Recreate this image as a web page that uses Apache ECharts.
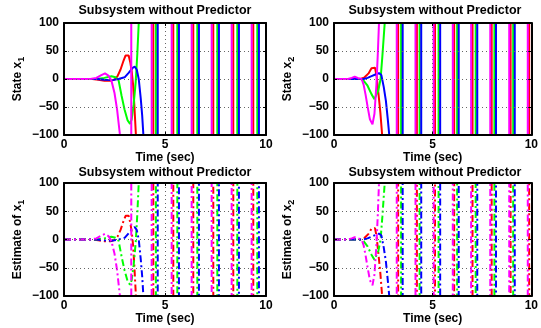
<!DOCTYPE html>
<html>
<head>
<meta charset="utf-8">
<script src="https://cdn.jsdelivr.net/npm/echarts@6/dist/echarts.min.js"></script>
<style>
html, body { margin: 0; padding: 0; background: #fff; }
#chart { width: 541px; height: 328px; }
</style>
</head>
<body>
<div id="chart"></div>
<script>
// axis ticks
const xTicks = [0, 5, 10];
const yTicks = [-100, -50, 0, 50, 100];
const titleText = "Subsystem without Predictor";
const yNames = ["State x{s|1}", "State x{s|2}", "Estimate of x{s|1}", "Estimate of x{s|2}"];

// state x1: start of each trace [t, value], then times where the blown-up oscillation crosses the band
const x1RedStart = [[0, 0], [1.4, 0], [1.7, -1.5], [2.0, -3], [2.3, -3], [2.5, -1], [2.65, 5], [2.8, 17], [2.95, 33], [3.05, 42], [3.12, 45], [3.2, 42], [3.28, 30], [3.35, 14], [3.42, -10], [3.48, -45], [3.56, -100]];
const x1RedCross = [4.42, 5.41, 6.40, 7.39, 8.38, 9.37];
const x1GreenStart = [[0, 0], [1.6, 0], [2.0, 2], [2.35, 5], [2.55, 3], [2.7, -2], [2.85, -30], [3.0, -55], [3.15, -74], [3.27, -80], [3.35, -72], [3.45, -45], [3.55, -5], [3.63, 45], [3.7, 100]];
const x1GreenCross = [4.55, 5.61, 6.60, 7.59, 8.58, 9.57];
const x1BlueStart = [[0, 0], [1.6, 0], [2.0, -1.5], [2.4, -2], [2.7, 0], [3.0, 3], [3.2, 11], [3.4, 20], [3.5, 22], [3.6, 17], [3.7, 0], [3.8, -35], [3.87, -65], [3.93, -100]];
const x1BlueCross = [4.64, 5.69, 6.68, 7.67, 8.66, 9.65];
const x1MagentaStart = [[0, 0], [1.3, 0], [1.6, 2], [1.85, 7], [2.03, 10], [2.2, 6], [2.35, -3], [2.5, -25], [2.63, -55], [2.77, -100]];
const x1MagentaCross = [3.33, 4.34, 5.33, 6.32, 7.31, 8.30, 9.29];

// state x2
const x2RedStart = [[0, 0], [1.35, 0], [1.55, 3], [1.75, 10], [1.9, 19], [2.0, 22.5], [2.08, 20], [2.16, 5], [2.25, -25], [2.35, -60], [2.44, -100]];
const x2RedCross = [3.25, 4.20, 5.12, 6.09, 7.02, 7.99, 8.95, 9.89];
const x2GreenStart = [[0, 0], [1.35, 0], [1.5, -3], [1.7, -12], [1.9, -27], [2.05, -36], [2.15, -38], [2.25, -20], [2.36, 0], [2.45, 40], [2.52, 75], [2.57, 100]];
const x2GreenCross = [3.40, 4.34, 5.30, 6.24, 7.18, 8.13, 9.08];
const x2BlueStart = [[0, 0], [1.5, 0], [1.7, 2], [1.9, 5], [2.1, 8], [2.28, 10.5], [2.4, 7], [2.52, -14], [2.63, -39], [2.72, -70], [2.8, -100]];
const x2BlueCross = [3.48, 4.42, 5.38, 6.32, 7.26, 8.21, 9.16];
const x2MagentaStart = [[0, 0], [0.7, 0], [0.9, 2], [1.05, 4], [1.2, 2], [1.4, 0], [1.5, -10], [1.6, -28], [1.7, -49], [1.82, -72], [1.95, -81], [2.05, -62], [2.15, -10], [2.22, 45], [2.28, 100]];
const x2MagentaCross = [3.18, 4.13, 5.05, 6.02, 6.95, 7.92, 8.88, 9.82];

const colors = ["#ff0000", "#00ff00", "#0000ff", "#ff00ff"];

// the estimates follow the states closely
const panels = [
	[[x1RedStart, x1RedCross], [x1GreenStart, x1GreenCross], [x1BlueStart, x1BlueCross], [x1MagentaStart, x1MagentaCross]],
	[[x2RedStart, x2RedCross], [x2GreenStart, x2GreenCross], [x2BlueStart, x2BlueCross], [x2MagentaStart, x2MagentaCross]],
];

// off-scale value used once a trace has left the window
const OFF = 300;

function trace(start, cross) {
	const pts = start.slice();
	const last = pts[pts.length - 1];
	let y = last[1] > 0 ? OFF : -OFF;
	pts.push([last[0] + 0.03, y]);
	cross.forEach((t) => {
		pts.push([t, y]);
		y = -y;
		pts.push([t, y]);
	});
	pts.push([10, y]);
	return pts;
}

const font = { fontFamily: "Liberation Sans", fontWeight: "bold", fontSize: 12, color: "#000" };
const grids = [
	{ left: 64, top: 23, width: 202, height: 112 },
	{ left: 334, top: 23, width: 202, height: 112 },
	{ left: 64, top: 183, width: 202, height: 113 },
	{ left: 334, top: 183, width: 202, height: 113 },
];

const xAxes = [];
const yAxes = [];
const series = [];
const titles = [];

grids.forEach((g, i) => {
	const boxLine = { show: true, onZero: false, lineStyle: { color: "#000", width: 2 } };
	const tick = { show: true, inside: true, length: 3, lineStyle: { color: "#000", width: 1 } };
	const dotted = { show: true, lineStyle: { color: "#666", width: 1, type: [1, 3] } };
	xAxes.push({
		gridIndex: i, type: "value", min: xTicks[0], max: xTicks[xTicks.length - 1], interval: 5,
		position: "bottom", z: 10,
		name: "Time (sec)", nameLocation: "middle", nameGap: 16, nameTextStyle: font,
		axisLine: boxLine, axisTick: tick, splitLine: dotted,
		axisLabel: { ...font, margin: 4 },
	});
	xAxes.push({
		gridIndex: i, type: "value", min: 0, max: 10, interval: 5, position: "top", z: 10,
		axisLine: boxLine, axisTick: tick, splitLine: { show: false }, axisLabel: { show: false },
	});
	yAxes.push({
		gridIndex: i, type: "value", min: yTicks[0], max: yTicks[yTicks.length - 1], interval: 50,
		position: "left", z: 10,
		name: yNames[i], nameLocation: "middle", nameGap: 38,
		nameTextStyle: { ...font, rich: { s: { ...font, fontSize: 9, padding: [7, 0, 0, 0] } } },
		axisLine: boxLine, axisTick: tick, splitLine: dotted,
		axisLabel: { ...font, margin: 5, formatter: (v) => (v < 0 ? "\u2212" + -v : "" + v) },
	});
	yAxes.push({
		gridIndex: i, type: "value", min: -100, max: 100, interval: 50, position: "right", z: 10,
		axisLine: boxLine, axisTick: tick, splitLine: { show: false }, axisLabel: { show: false },
	});
	titles.push({
		text: titleText, left: g.left + g.width / 2, textAlign: "center",
		top: i < 2 ? 4 : 166, padding: 0, textStyle: { ...font, fontSize: 12.5 },
	});

	const estimate = i >= 2;
	panels[i % 2].forEach(([start, cross], c) => {
		series.push({
			type: "line", xAxisIndex: 2 * i, yAxisIndex: 2 * i,
			data: trace(start, cross), symbol: "none", clip: true,
			lineStyle: { color: colors[c], width: 2, type: estimate ? [7, 3, 2, 3] : "solid" },
		});
	});
});

const chart = echarts.init(document.getElementById("chart"));
chart.setOption({
	backgroundColor: "#fff",
	animation: false,
	title: titles,
	grid: grids,
	xAxis: xAxes,
	yAxis: yAxes,
	series,
});
</script>
</body>
</html>
